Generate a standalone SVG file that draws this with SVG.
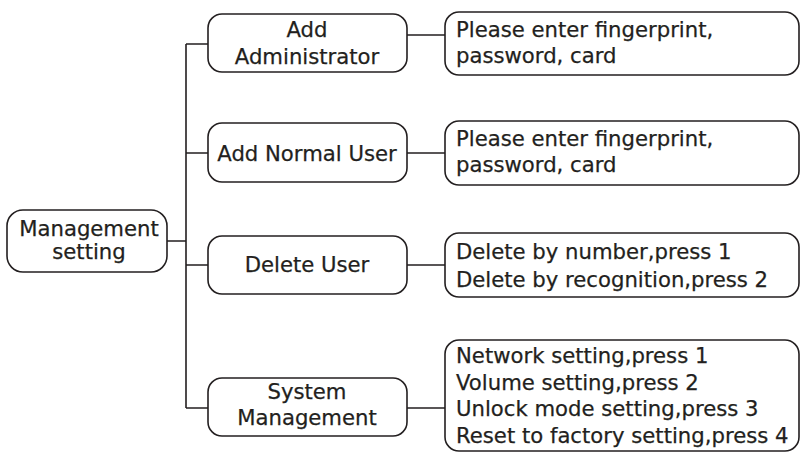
<svg xmlns="http://www.w3.org/2000/svg" width="802" height="453" viewBox="0 0 802 453">
<style>
.box{fill:#fff;stroke:#231f20;stroke-width:1.6}
.ln{fill:none;stroke:#231f20;stroke-width:1.6}
text{font-family:"DejaVu Sans",sans-serif;font-size:21.2px;fill:#231f20;stroke:#231f20;stroke-width:0.25}
.c{text-anchor:middle}
</style>
<rect width="802" height="453" fill="#fff"/>
<g id="connectors">
<path class="ln" d="M167 241H186M186 44V408M186 44H208M186 153H208M186 265H208M186 408H208"/>
<path class="ln" d="M407 35H445M407 153H445M407 265H445M407 408H445"/>
</g>
<g id="management">
<rect class="box" x="7" y="210" width="160" height="62" rx="16"/>
<text class="c" x="89" y="236">Management</text>
<text class="c" x="89" y="259">setting</text>
</g>
<g id="add-admin">
<rect class="box" x="208" y="14" width="199" height="58" rx="14"/>
<text class="c" x="307" y="37">Add</text>
<text class="c" x="307" y="64">Administrator</text>
</g>
<g id="add-admin-detail">
<rect class="box" x="445" y="12" width="354" height="63" rx="14"/>
<text x="456" y="37">Please enter fingerprint,</text>
<text x="456" y="63">password, card</text>
</g>
<g id="add-normal">
<rect class="box" x="208" y="123" width="199" height="59" rx="14"/>
<text class="c" x="307" y="161">Add Normal User</text>
</g>
<g id="add-normal-detail">
<rect class="box" x="445" y="121" width="354" height="64" rx="14"/>
<text x="456" y="146">Please enter fingerprint,</text>
<text x="456" y="172">password, card</text>
</g>
<g id="delete-user">
<rect class="box" x="208" y="236" width="199" height="58" rx="14"/>
<text class="c" x="307" y="272">Delete User</text>
</g>
<g id="delete-detail">
<rect class="box" x="445" y="233" width="354" height="64" rx="14"/>
<text x="456" y="259">Delete by number,press 1</text>
<text x="456" y="287">Delete by recognition,press 2</text>
</g>
<g id="system">
<rect class="box" x="208" y="378" width="199" height="58" rx="14"/>
<text class="c" x="307" y="399">System</text>
<text class="c" x="307" y="425">Management</text>
</g>
<g id="system-detail">
<rect class="box" x="445" y="340" width="354" height="111" rx="14"/>
<text x="456" y="363">Network setting,press 1</text>
<text x="456" y="390">Volume setting,press 2</text>
<text x="456" y="416">Unlock mode setting,press 3</text>
<text x="456" y="443">Reset to factory setting,press 4</text>
</g>
</svg>
